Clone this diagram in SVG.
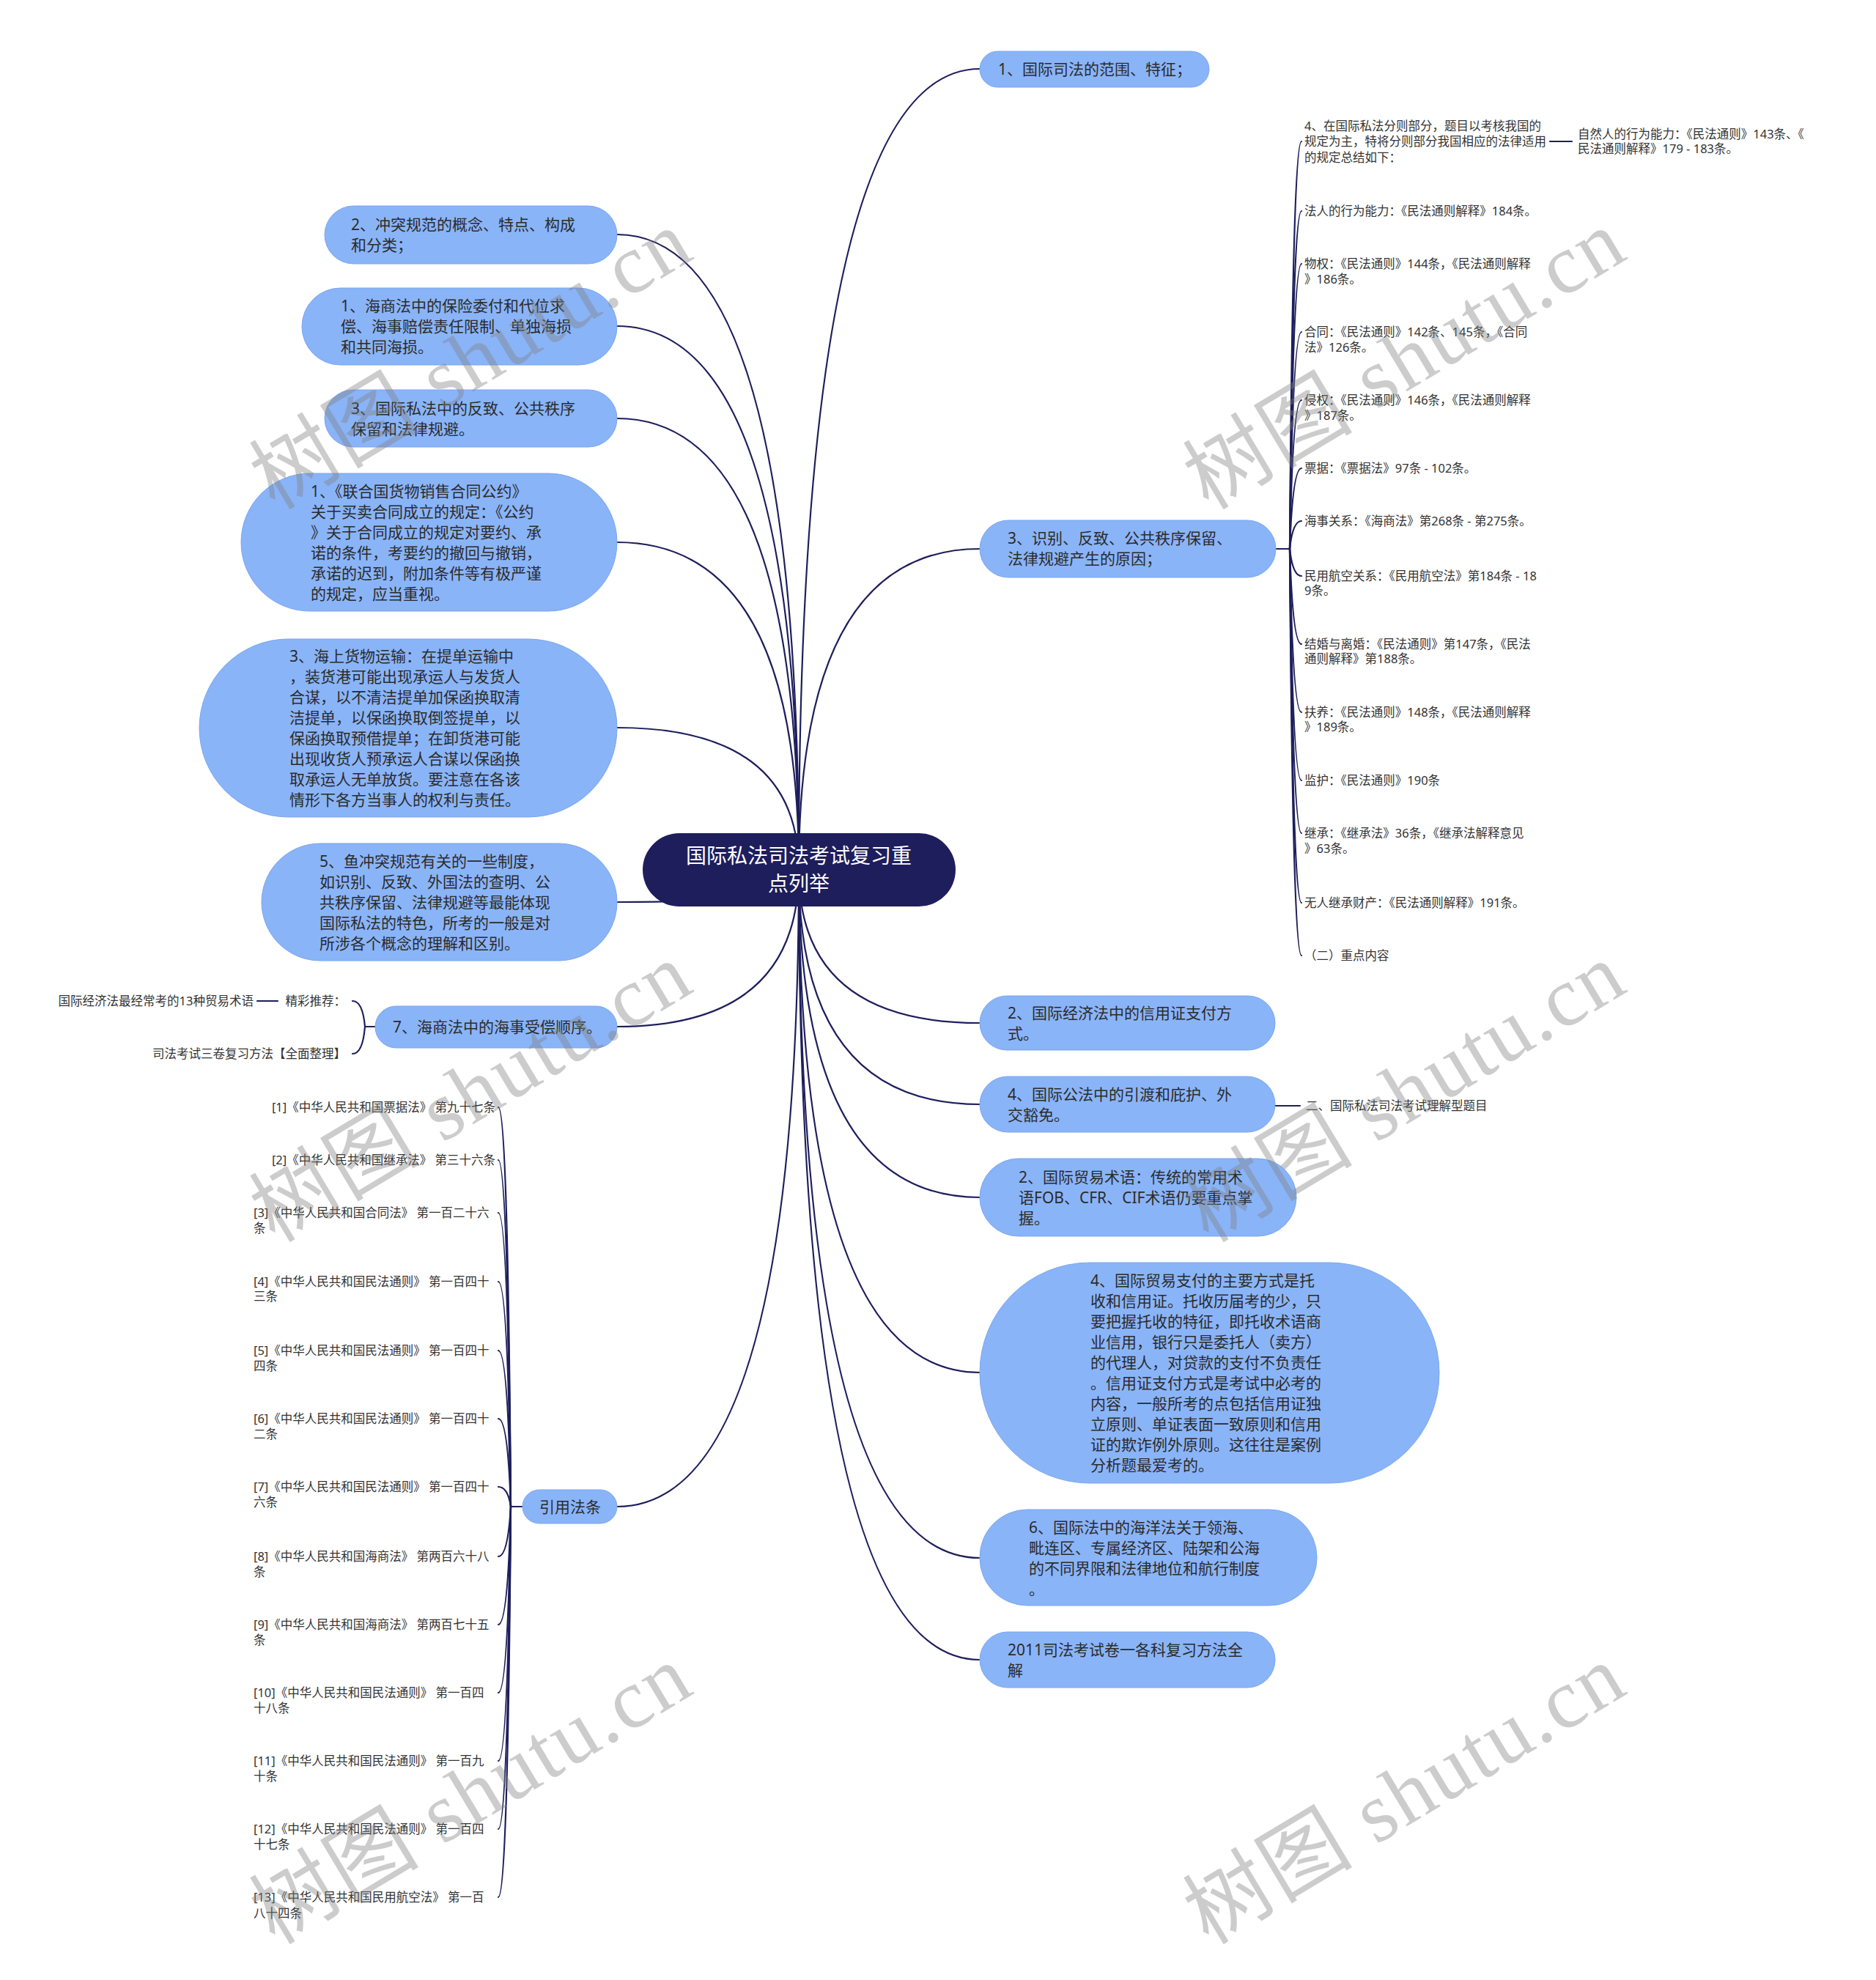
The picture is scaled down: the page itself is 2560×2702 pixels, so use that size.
<svg xmlns="http://www.w3.org/2000/svg" width="2560" height="2702" viewBox="0 0 2560 2702">
<style>
.bg{fill:#ffffff}
.c{fill:none;stroke:#1e1e5c;stroke-width:2.2;stroke-linecap:round}
.n{fill:#8ab4f8;stroke:#7aa6f0;stroke-width:1}
.root{fill:#1e1e5c}
.t{font-family:'Noto Sans','Noto Sans CJK SC',sans-serif;font-size:21px;fill:#2b2b2b}
.rt{font-family:'Noto Sans','Noto Sans CJK SC',sans-serif;font-size:28px;fill:#ffffff}
.s{font-family:'Noto Sans','Noto Sans CJK SC',sans-serif;font-size:16.5px;fill:#333333}
.wm{font-family:'Liberation Serif','Noto Sans CJK SC',serif;font-size:115px;fill:#808080;fill-opacity:0.4}
</style>
<rect class="bg" x="0" y="0" width="2560" height="2702"/>
<g id="connectors">
<path class="c" d="M1090 1187 Q1090 94 1337 94"/>
<path class="c" d="M1090 1187 Q1090 749 1337 749"/>
<path class="c" d="M1090 1187 Q1090 1396 1337 1396"/>
<path class="c" d="M1090 1187 Q1090 1507 1337 1507"/>
<path class="c" d="M1090 1187 Q1090 1634 1337 1634"/>
<path class="c" d="M1090 1187 Q1090 1873 1337 1873"/>
<path class="c" d="M1090 1187 Q1090 2126 1337 2126"/>
<path class="c" d="M1090 1187 Q1090 2265 1337 2265"/>
<path class="c" d="M1090 1187 Q1090 320 842 320"/>
<path class="c" d="M1090 1187 Q1090 445 842 445"/>
<path class="c" d="M1090 1187 Q1090 571 842 571"/>
<path class="c" d="M1090 1187 Q1090 740 842 740"/>
<path class="c" d="M1090 1187 Q1090 993 842 993"/>
<path class="c" d="M1090 1187 Q1090 1231 842 1231"/>
<path class="c" d="M1090 1187 Q1090 1401 842 1401"/>
<path class="c" d="M1090 1187 Q1090 2056 842 2056"/>
<!-- R2 children -->
<path class="c" d="M1740 749 L1760 749"/>
<path class="c" d="M1760 749 Q1764 193 1776 193"/>
<path class="c" d="M1760 749 Q1764 288 1776 288"/>
<path class="c" d="M1760 749 Q1764 360 1776 360"/>
<path class="c" d="M1760 749 Q1764 453 1776 453"/>
<path class="c" d="M1760 749 Q1764 546 1776 546"/>
<path class="c" d="M1760 749 Q1764 639 1776 639"/>
<path class="c" d="M1760 749 Q1764 711 1776 711"/>
<path class="c" d="M1760 749 Q1764 786 1776 786"/>
<path class="c" d="M1760 749 Q1764 879 1776 879"/>
<path class="c" d="M1760 749 Q1764 972 1776 972"/>
<path class="c" d="M1760 749 Q1764 1065 1776 1065"/>
<path class="c" d="M1760 749 Q1764 1137 1776 1137"/>
<path class="c" d="M1760 749 Q1764 1232 1776 1232"/>
<path class="c" d="M1760 749 Q1764 1304 1776 1304"/>
<path class="c" d="M2115 193 L2145 193"/>
<!-- R4 child -->
<path class="c" d="M1740 1509 L1774 1509"/>
<!-- L7 children -->
<path class="c" d="M512 1401 L498 1401"/>
<path class="c" d="M498 1401 Q495 1366 481 1366"/>
<path class="c" d="M498 1401 Q495 1438 481 1438"/>
<path class="c" d="M351 1366 L379 1366"/>
<!-- L8 children -->
<path class="c" d="M713 2056 L697 2056"/>
<path class="c" d="M697 2056 Q693 1511 680 1511"/>
<path class="c" d="M697 2056 Q693 1583 680 1583"/>
<path class="c" d="M697 2056 Q693 1655 680 1655"/>
<path class="c" d="M697 2056 Q693 1749 680 1749"/>
<path class="c" d="M697 2056 Q693 1843 680 1843"/>
<path class="c" d="M697 2056 Q693 1936 680 1936"/>
<path class="c" d="M697 2056 Q693 2029 680 2029"/>
<path class="c" d="M697 2056 Q693 2124 680 2124"/>
<path class="c" d="M697 2056 Q693 2217 680 2217"/>
<path class="c" d="M697 2056 Q693 2310 680 2310"/>
<path class="c" d="M697 2056 Q693 2403 680 2403"/>
<path class="c" d="M697 2056 Q693 2496 680 2496"/>
<path class="c" d="M697 2056 Q693 2589 680 2589"/>
</g>

<g id="root">
<rect class="root" x="877" y="1137" width="427" height="100" rx="50"/>
<text class="rt" x="1090" y="1178" text-anchor="middle">国际私法司法考试复习重</text>
<text class="rt" x="1090" y="1216" text-anchor="middle">点列举</text>
</g>

<g id="r1"><rect class="n" x="1337" y="70" width="313" height="49" rx="24.5"/>
<text class="t" x="1362" y="102">1、国际司法的范围、特征；</text></g>
<g id="r2"><rect class="n" x="1337" y="710" width="404" height="78" rx="39"/>
<text class="t" x="1375" y="742">3、识别、反致、公共秩序保留、</text>
<text class="t" x="1375" y="770">法律规避产生的原因；</text></g>
<g id="r3"><rect class="n" x="1337" y="1359" width="403" height="74" rx="37"/>
<text class="t" x="1375" y="1390">2、国际经济法中的信用证支付方</text>
<text class="t" x="1375" y="1418">式。</text></g>
<g id="r4"><rect class="n" x="1337" y="1469" width="403" height="76" rx="38"/>
<text class="t" x="1375" y="1501">4、国际公法中的引渡和庇护、外</text>
<text class="t" x="1375" y="1529">交豁免。</text></g>
<g id="r5"><rect class="n" x="1337" y="1581" width="432" height="106" rx="53"/>
<text class="t" x="1390" y="1614">2、国际贸易术语：传统的常用术</text>
<text class="t" x="1390" y="1642">语FOB、CFR、CIF术语仍要重点掌</text>
<text class="t" x="1390" y="1670">握。</text></g>
<g id="r6"><rect class="n" x="1337" y="1723" width="627" height="301" rx="150"/>
<text class="t" x="1488" y="1755">4、国际贸易支付的主要方式是托</text>
<text class="t" x="1488" y="1783">收和信用证。托收历届考的少，只</text>
<text class="t" x="1488" y="1811">要把握托收的特征，即托收术语商</text>
<text class="t" x="1488" y="1839">业信用，银行只是委托人（卖方）</text>
<text class="t" x="1488" y="1867">的代理人，对贷款的支付不负责任</text>
<text class="t" x="1488" y="1895">。信用证支付方式是考试中必考的</text>
<text class="t" x="1488" y="1923">内容，一般所考的点包括信用证独</text>
<text class="t" x="1488" y="1951">立原则、单证表面一致原则和信用</text>
<text class="t" x="1488" y="1979">证的欺诈例外原则。这往往是案例</text>
<text class="t" x="1488" y="2007">分析题最爱考的。</text></g>
<g id="r7"><rect class="n" x="1337" y="2060" width="460" height="131" rx="65"/>
<text class="t" x="1404" y="2092">6、国际法中的海洋法关于领海、</text>
<text class="t" x="1404" y="2120">毗连区、专属经济区、陆架和公海</text>
<text class="t" x="1404" y="2148">的不同界限和法律地位和航行制度</text>
<text class="t" x="1404" y="2176">。</text></g>
<g id="r8"><rect class="n" x="1337" y="2227" width="403" height="76" rx="38"/>
<text class="t" x="1375" y="2259">2011司法考试卷一各科复习方法全</text>
<text class="t" x="1375" y="2287">解</text></g>

<g id="l1"><rect class="n" x="443" y="281" width="399" height="79" rx="39.5"/>
<text class="t" x="479" y="314">2、冲突规范的概念、特点、构成</text>
<text class="t" x="479" y="342">和分类；</text></g>
<g id="l2"><rect class="n" x="412" y="393" width="430" height="105" rx="52.5"/>
<text class="t" x="465" y="425">1、海商法中的保险委付和代位求</text>
<text class="t" x="465" y="453">偿、海事赔偿责任限制、单独海损</text>
<text class="t" x="465" y="481">和共同海损。</text></g>
<g id="l3"><rect class="n" x="443" y="532" width="399" height="78" rx="39"/>
<text class="t" x="479" y="565">3、国际私法中的反致、公共秩序</text>
<text class="t" x="479" y="593">保留和法律规避。</text></g>
<g id="l4"><rect class="n" x="329" y="646" width="513" height="188" rx="94"/>
<text class="t" x="424" y="678">1、《联合国货物销售合同公约》</text>
<text class="t" x="424" y="706">关于买卖合同成立的规定：《公约</text>
<text class="t" x="424" y="734">》关于合同成立的规定对要约、承</text>
<text class="t" x="424" y="762">诺的条件，考要约的撤回与撤销，</text>
<text class="t" x="424" y="790">承诺的迟到，附加条件等有极严谨</text>
<text class="t" x="424" y="818">的规定，应当重视。</text></g>
<g id="l5"><rect class="n" x="272" y="872" width="570" height="243" rx="121.5"/>
<text class="t" x="395" y="903">3、海上货物运输：在提单运输中</text>
<text class="t" x="395" y="931">，装货港可能出现承运人与发货人</text>
<text class="t" x="395" y="959">合谋，以不清洁提单加保函换取清</text>
<text class="t" x="395" y="987">洁提单，以保函换取倒签提单，以</text>
<text class="t" x="395" y="1015">保函换取预借提单；在卸货港可能</text>
<text class="t" x="395" y="1043">出现收货人预承运人合谋以保函换</text>
<text class="t" x="395" y="1071">取承运人无单放货。要注意在各该</text>
<text class="t" x="395" y="1099">情形下各方当事人的权利与责任。</text></g>
<g id="l6"><rect class="n" x="357" y="1151" width="485" height="160" rx="80"/>
<text class="t" x="436" y="1183">5、鱼冲突规范有关的一些制度，</text>
<text class="t" x="436" y="1211">如识别、反致、外国法的查明、公</text>
<text class="t" x="436" y="1239">共秩序保留、法律规避等最能体现</text>
<text class="t" x="436" y="1267">国际私法的特色，所考的一般是对</text>
<text class="t" x="436" y="1295">所涉各个概念的理解和区别。</text></g>
<g id="l7"><rect class="n" x="512" y="1373" width="330" height="57" rx="28.5"/>
<text class="t" x="536" y="1409">7、海商法中的海事受偿顺序。</text></g>
<g id="l8"><rect class="n" x="713" y="2033" width="129" height="46" rx="23"/>
<text class="t" x="736" y="2064">引用法条</text></g>

<g id="r2-children">
<text class="s" x="1780" y="178">4、在国际私法分则部分，题目以考核我国的</text>
<text class="s" x="1780" y="199">规定为主，特将分则部分我国相应的法律适用</text>
<text class="s" x="1780" y="221">的规定总结如下：</text>
<text class="s" x="2153" y="189">自然人的行为能力：《民法通则》143条、《</text>
<text class="s" x="2153" y="209">民法通则解释》179 - 183条。</text>
<text class="s" x="1780" y="294">法人的行为能力：《民法通则解释》184条。</text>
<text class="s" x="1780" y="366">物权：《民法通则》144条，《民法通则解释</text>
<text class="s" x="1780" y="387">》186条。</text>
<text class="s" x="1780" y="459">合同：《民法通则》142条、145条，《合同</text>
<text class="s" x="1780" y="480">法》126条。</text>
<text class="s" x="1780" y="552">侵权：《民法通则》146条，《民法通则解释</text>
<text class="s" x="1780" y="573">》187条。</text>
<text class="s" x="1780" y="645">票据：《票据法》97条 - 102条。</text>
<text class="s" x="1780" y="717">海事关系：《海商法》第268条 - 第275条。</text>
<text class="s" x="1780" y="792">民用航空关系：《民用航空法》第184条 - 18</text>
<text class="s" x="1780" y="812">9条。</text>
<text class="s" x="1780" y="885">结婚与离婚：《民法通则》第147条，《民法</text>
<text class="s" x="1780" y="905">通则解释》第188条。</text>
<text class="s" x="1780" y="978">扶养：《民法通则》148条，《民法通则解释</text>
<text class="s" x="1780" y="998">》189条。</text>
<text class="s" x="1780" y="1071">监护：《民法通则》190条</text>
<text class="s" x="1780" y="1143">继承：《继承法》36条，《继承法解释意见</text>
<text class="s" x="1780" y="1164">》63条。</text>
<text class="s" x="1780" y="1238">无人继承财产：《民法通则解释》191条。</text>
<text class="s" x="1780" y="1310">（二）重点内容</text>
</g>
<g id="r4-child">
<text class="s" x="1782" y="1515">二、国际私法司法考试理解型题目</text>
</g>
<g id="l7-children">
<text class="s" x="346" y="1372" text-anchor="end">国际经济法最经常考的13种贸易术语</text>
<text class="s" x="472" y="1372" text-anchor="end">精彩推荐：</text>
<text class="s" x="472" y="1444" text-anchor="end">司法考试三卷复习方法【全面整理】</text>
</g>
<g id="l8-children">
<text class="s" x="676" y="1517" text-anchor="end">[1]《中华人民共和国票据法》 第九十七条</text>
<text class="s" x="676" y="1589" text-anchor="end">[2]《中华人民共和国继承法》 第三十六条</text>
<text class="s" x="346" y="1661">[3]《中华人民共和国合同法》 第一百二十六</text>
<text class="s" x="346" y="1682">条</text>
<text class="s" x="346" y="1755">[4]《中华人民共和国民法通则》 第一百四十</text>
<text class="s" x="346" y="1775">三条</text>
<text class="s" x="346" y="1849">[5]《中华人民共和国民法通则》 第一百四十</text>
<text class="s" x="346" y="1870">四条</text>
<text class="s" x="346" y="1942">[6]《中华人民共和国民法通则》 第一百四十</text>
<text class="s" x="346" y="1963">二条</text>
<text class="s" x="346" y="2035">[7]《中华人民共和国民法通则》 第一百四十</text>
<text class="s" x="346" y="2056">六条</text>
<text class="s" x="346" y="2130">[8]《中华人民共和国海商法》 第两百六十八</text>
<text class="s" x="346" y="2151">条</text>
<text class="s" x="346" y="2223">[9]《中华人民共和国海商法》 第两百七十五</text>
<text class="s" x="346" y="2244">条</text>
<text class="s" x="346" y="2316">[10]《中华人民共和国民法通则》 第一百四</text>
<text class="s" x="346" y="2337">十八条</text>
<text class="s" x="346" y="2409">[11]《中华人民共和国民法通则》 第一百九</text>
<text class="s" x="346" y="2430">十条</text>
<text class="s" x="346" y="2502">[12]《中华人民共和国民法通则》 第一百四</text>
<text class="s" x="346" y="2523">十七条</text>
<text class="s" x="346" y="2595">[13]《中华人民共和国民用航空法》 第一百</text>
<text class="s" x="346" y="2617">八十四条</text>
</g>

<g id="watermark">
<text class="wm" x="375" y="697" transform="rotate(-31 375 697)" textLength="670" lengthAdjust="spacing">树图 shutu.cn</text>
<text class="wm" x="1649" y="697" transform="rotate(-31 1649 697)" textLength="670" lengthAdjust="spacing">树图 shutu.cn</text>
<text class="wm" x="375" y="1697" transform="rotate(-31 375 1697)" textLength="670" lengthAdjust="spacing">树图 shutu.cn</text>
<text class="wm" x="1649" y="1697" transform="rotate(-31 1649 1697)" textLength="670" lengthAdjust="spacing">树图 shutu.cn</text>
<text class="wm" x="375" y="2655" transform="rotate(-31 375 2655)" textLength="670" lengthAdjust="spacing">树图 shutu.cn</text>
<text class="wm" x="1649" y="2655" transform="rotate(-31 1649 2655)" textLength="670" lengthAdjust="spacing">树图 shutu.cn</text>
</g>
</svg>
